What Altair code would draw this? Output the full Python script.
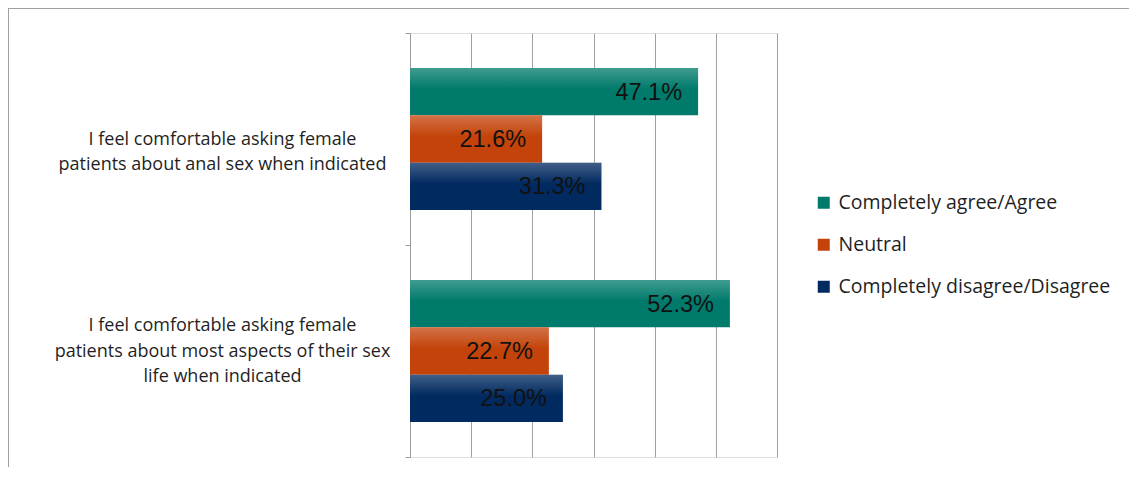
import altair as alt
import pandas as pd

categories = [
    "I feel comfortable asking female|patients about anal sex when indicated",
    "I feel comfortable asking female|patients about most aspects of their sex|life when indicated",
]
series = ["Completely agree/Agree", "Neutral", "Completely disagree/Disagree"]
values_anal = [47.1, 21.6, 31.3]
values_most = [52.3, 22.7, 25.0]
colors = ["#007A6B", "#C4430A", "#012A60"]
grid_ticks = [0, 10, 20, 30, 40, 50, 60]

rows = []
for cat, vals in zip(categories, [values_anal, values_most]):
    for s, v in zip(series, vals):
        rows.append({"category": cat, "series": s, "value": v, "label": f"{v:.1f}%"})
df = pd.DataFrame(rows)

W, H = 367, 424
PAD_L, PAD_T, PAD_R, PAD_B = 402, 25, 352, 10
LINE_H = 25.5

base = alt.Chart(df).encode(
    y=alt.Y(
        "category:N",
        sort=categories,
        title=None,
        scale=alt.Scale(paddingInner=0, paddingOuter=0),
        axis=alt.Axis(
            labelExpr="length(split(datum.label, '|')) < 3 ? split('|' + datum.label, '|') : split(datum.label, '|')",
            labelAlign="center",
            labelBaseline="middle",
            labelPadding=183,
            labelLimit=500,
            labelFont="Open Sans",
            labelFontSize=18,
            labelColor="#1f1f1f",
            labelLineHeight=LINE_H,
            labelOverlap=False,
            labelOffset=-LINE_H,
            tickBand="extent",
            tickSize=5,
            tickColor="#9a9a9a",
            domainColor="#9a9a9a",
            grid=False,
        ),
    ),
    yOffset=alt.YOffset("series:N", sort=series,
                        scale=alt.Scale(paddingOuter=0.74, paddingInner=0)),
)

x_enc = alt.X(
    "value:Q",
    title=None,
    scale=alt.Scale(domain=[0, 60], nice=False, zero=True),
    axis=alt.Axis(values=grid_ticks, labels=False, ticks=False, domain=False,
                  grid=True, gridColor="#a0a0a0", gridWidth=1),
)

bars = base.mark_bar(stroke=None).encode(
    x=x_enc,
    color=alt.Color(
        "series:N",
        sort=series,
        scale=alt.Scale(domain=series, range=colors),
        legend=alt.Legend(
            title=None,
            orient="none",
            legendX=404,
            legendY=160,
            symbolType="square",
            symbolSize=144,
            symbolStrokeWidth=0,
            labelFont="Open Sans",
            labelFontSize=19.5,
            labelColor="#1f1f1f",
            labelOffset=5,
            labelLimit=500,
            rowPadding=21,
        ),
    ),
)

shine = base.mark_bar(
    fill=alt.Gradient(
        gradient="linear",
        stops=[
            alt.GradientStop(color="rgba(255,255,255,0.25)", offset=0),
            alt.GradientStop(color="rgba(255,255,255,0)", offset=0.45),
        ],
        x1=0, x2=0, y1=0, y2=1,
    )
).encode(x="value:Q")

text = base.mark_text(
    align="right", baseline="middle", dx=-16, dy=1,
    font="Liberation Sans", fontSize=23.5, color="#111111",
).encode(x="value:Q", text="label:N")

frame_df = pd.DataFrame({"k": [0]})
top_border = alt.Chart(frame_df).mark_rule(color="#a0a0a0", strokeWidth=1).encode(
    x=alt.value(-PAD_L), x2=alt.value(W + PAD_R), y=alt.value(-PAD_T + 0.5)
)
left_border = alt.Chart(frame_df).mark_rule(color="#a0a0a0", strokeWidth=1).encode(
    x=alt.value(-PAD_L + 0.5), y=alt.value(-PAD_T), y2=alt.value(H + PAD_B)
)

chart = alt.layer(bars, shine, text, top_border, left_border).properties(
    width=W, height=H,
    padding={"left": PAD_L, "top": PAD_T, "right": PAD_R, "bottom": PAD_B},
    autosize=alt.AutoSizeParams(type="none"),
).configure_view(stroke=None).configure(background="white")

chart.save("out.html", embed_options={"renderer": "svg", "actions": False})
